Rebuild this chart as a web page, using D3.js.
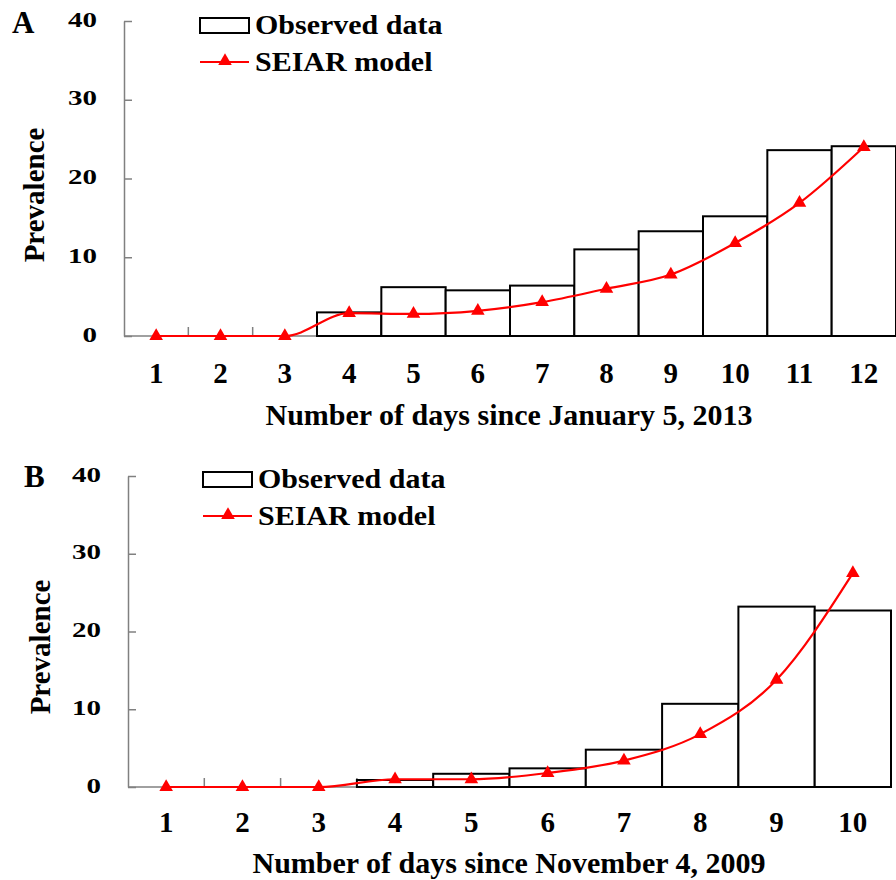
<!DOCTYPE html>
<html>
<head>
<meta charset="utf-8">
<script src="https://cdn.jsdelivr.net/npm/d3@7"></script>
<style>
  body { margin: 0; background: #fff; }
  svg text { font-family: "Liberation Serif", "Times New Roman", serif; font-weight: bold; }
</style>
</head>
<body>
<svg id="chart" width="896" height="880"></svg>
<script>
// Panel A: days since January 5, 2013
const daysA = d3.range(1, 13);
const observedA = [null, null, null, 3, 6.2, 5.8, 6.4, 11, 13.3, 15.2, 23.6, 24.1];
const modelA = [0, 0, 0, 2.9, 2.8, 3.2, 4.3, 6.0, 7.8, 11.8, 16.9, 24.0];

// Panel B: days since November 4, 2009
const daysB = d3.range(1, 11);
const observedB = [null, null, null, 0.9, 1.7, 2.4, 4.8, 10.7, 23.2, 22.7];
const modelB = [0, 0, 0, 1.0, 1.0, 1.8, 3.4, 6.8, 13.8, 27.5];

const yTicks = [0, 10, 20, 30, 40];
const legendLabels = ["Observed data", "SEIAR model"];

const svg = d3.select('#chart');

const panels = [
    {
        letter: 'A', days: daysA, observed: observedA, model: modelA,
        title: 'Number of days since January 5, 2013',
        left: 124, right: 896, top: 21, bottom: 336,
        letterPos: [12, 33], legendPos: [200, 18], tickBase: 383, titleBase: 425,
        ylabel: [44, 195]
    },
    {
        letter: 'B', days: daysB, observed: observedB, model: modelB,
        title: 'Number of days since November 4, 2009',
        left: 128, right: 891, top: 476, bottom: 787,
        letterPos: [24, 487], legendPos: [203, 472], tickBase: 832, titleBase: 873,
        ylabel: [50, 647]
    }
];

panels.forEach(drawPanel);

// text squashed a bit vertically, like the source figure
function squashed(sel, x, y, sy) {
    return sel.attr('transform', `translate(${x},${y}) scale(1,${sy})`);
}

function drawPanel(p) {
    const g = svg.append('g');

    const x = d3.scaleBand()
        .domain(p.days)
        .range([p.left, p.right])
        .padding(0);
    const y = d3.scaleLinear()
        .domain([0, 40])
        .range([p.bottom, p.top]);

    // y axis, ticks pointing inward
    const yAxis = g.append('g')
        .attr('transform', `translate(${p.left},0)`)
        .call(d3.axisLeft(y).tickValues(yTicks).tickSizeInner(-8).tickSizeOuter(0).tickPadding(27));
    yAxis.select('.domain').attr('stroke', '#808080').attr('stroke-width', 1.5);
    yAxis.selectAll('.tick line').attr('stroke', '#808080').attr('stroke-width', 1.5);
    yAxis.selectAll('.tick text')
        .attr('font-size', 29)
        .attr('fill', '#000')
        .attr('dy', '0.25em')
        .attr('transform', 'scale(1,0.72)');

    // x axis line
    g.append('line')
        .attr('x1', p.left).attr('x2', p.right + 1)
        .attr('y1', y(0)).attr('y2', y(0))
        .attr('stroke', '#808080').attr('stroke-width', 1.5);

    // category boundary ticks
    g.selectAll('.xtick')
        .data(p.days.slice(1))
        .enter().append('line')
        .attr('x1', d => x(d)).attr('x2', d => x(d))
        .attr('y1', y(0)).attr('y2', y(0) - 9)
        .attr('stroke', '#808080').attr('stroke-width', 1.5);

    g.selectAll('.xlabel')
        .data(p.days)
        .enter().append('text')
        .attr('x', d => x(d) + x.bandwidth() / 2)
        .attr('y', p.tickBase)
        .attr('text-anchor', 'middle')
        .attr('font-size', 29)
        .text(d => d);

    // observed bars
    const bars = p.days.map((d, i) => ({ day: d, v: p.observed[i] })).filter(d => d.v != null);
    g.selectAll('.bar')
        .data(bars)
        .enter().append('rect')
        .attr('x', d => x(d.day))
        .attr('y', d => y(d.v))
        .attr('width', x.bandwidth())
        .attr('height', d => y(0) - y(d.v))
        .attr('fill', '#fff')
        .attr('stroke', '#000')
        .attr('stroke-width', 2);

    // model line
    const pts = p.days.map((d, i) => ({ day: d, v: p.model[i] }));
    const line = d3.line()
        .x(d => x(d.day) + x.bandwidth() / 2)
        .y(d => y(d.v))
        .curve(d3.curveMonotoneX);
    g.append('path')
        .datum(pts)
        .attr('d', line)
        .attr('fill', 'none')
        .attr('stroke', '#ff0000')
        .attr('stroke-width', 2.2);

    const tri = d3.symbol().type(d3.symbolTriangle).size(80);
    g.selectAll('.marker')
        .data(pts)
        .enter().append('path')
        .attr('d', tri)
        .attr('transform', d => `translate(${x(d.day) + x.bandwidth() / 2},${y(d.v)})`)
        .attr('fill', '#ff0000');

    // panel letter
    g.append('text')
        .attr('x', p.letterPos[0]).attr('y', p.letterPos[1])
        .attr('font-size', 31)
        .text(p.letter);

    // axis titles
    g.append('text')
        .attr('x', 509)
        .attr('y', p.titleBase)
        .attr('text-anchor', 'middle')
        .attr('font-size', 30)
        .text(p.title);

    g.append('text')
        .attr('transform', `translate(${p.ylabel[0]},${p.ylabel[1]}) rotate(-90)`)
        .attr('text-anchor', 'middle')
        .attr('font-size', 29)
        .text('Prevalence');

    // legend
    const lg = g.append('g').attr('transform', `translate(${p.legendPos[0]},${p.legendPos[1]})`);
    lg.append('rect')
        .attr('x', 0).attr('y', 0)
        .attr('width', 49).attr('height', 15)
        .attr('fill', '#fff').attr('stroke', '#000').attr('stroke-width', 2);
    squashed(lg.append('text'), 55, 16, 0.88)
        .attr('font-size', 30)
        .text(legendLabels[0]);
    lg.append('line')
        .attr('x1', 0).attr('x2', 49)
        .attr('y1', 44).attr('y2', 44)
        .attr('stroke', '#ff0000').attr('stroke-width', 2.2);
    lg.append('path')
        .attr('d', tri)
        .attr('transform', 'translate(25,43)')
        .attr('fill', '#ff0000');
    squashed(lg.append('text'), 55, 53, 0.88)
        .attr('font-size', 30)
        .text(legendLabels[1]);
}
</script>
</body>
</html>
